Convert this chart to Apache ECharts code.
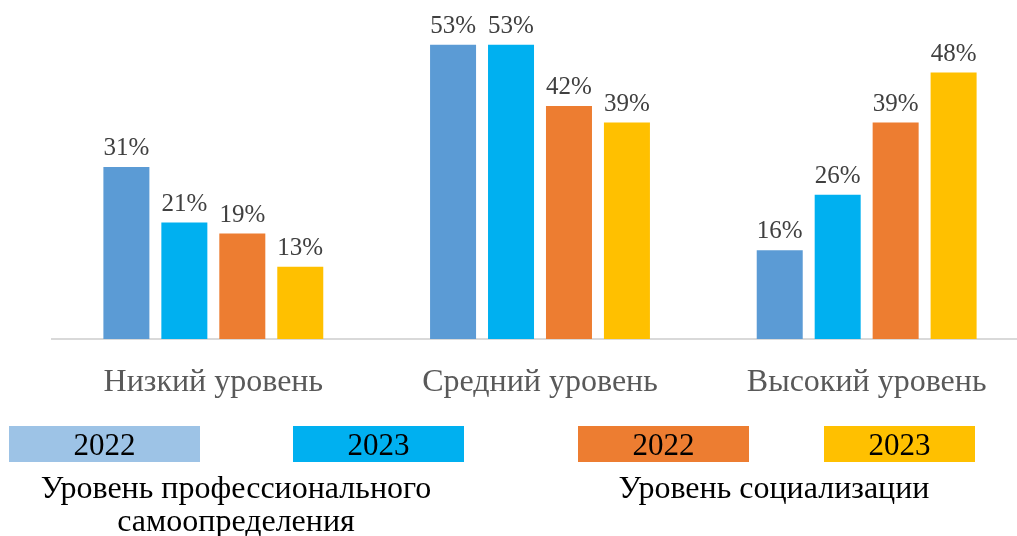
<!DOCTYPE html>
<html>
<head>
<meta charset="utf-8">
<script src="https://cdn.jsdelivr.net/npm/echarts@6/dist/echarts.min.js"></script>
<style>
  html, body { margin: 0; padding: 0; background: #fff; overflow: hidden; }
  /* a bit wider than the window: the last category runs past the right edge in the original */
  #chart { width: 1030px; height: 536px; }
</style>
</head>
<body>
<div id="chart"></div>
<script>
const categories = ['Низкий уровень', 'Средний уровень', 'Высокий уровень'];
const seriesNames = ['2022', '2023', '2022', '2023'];
const prof2022 = [31, 53, 16];
const prof2023 = [21, 53, 26];
const soc2022 = [19, 42, 39];
const soc2023 = [13, 39, 48];
const groupNames = ['Уровень профессионального\nсамоопределения', 'Уровень социализации'];

const barColors = ['#5B9BD5', '#00B0F0', '#ED7D31', '#FFC000'];
const legendColors = ['#9DC3E6', '#00B0F0', '#ED7D31', '#FFC000'];
const FONT = '"Liberation Serif", "Times New Roman", serif';

const chart = echarts.init(document.getElementById('chart'), null, { renderer: 'canvas' });

const values = [prof2022, prof2023, soc2022, soc2023];
const series = values.map((data, i) => ({
  name: seriesNames[i] + '_' + i,
  type: 'bar',
  data,
  barWidth: 46,
  barGap: '26%',
  itemStyle: { color: barColors[i] },
  label: {
    show: true,
    position: 'top',
    distance: 6,
    formatter: '{c}%',
    color: '#404040',
    fontFamily: FONT,
    fontSize: 25
  }
}));

// legend boxes drawn as graphics (text inside box)
const boxes = [
  { x: 9, w: 191 },
  { x: 293, w: 171 },
  { x: 578, w: 171 },
  { x: 824, w: 151 }
];
const graphics = [];
boxes.forEach((b, i) => {
  graphics.push({
    type: 'rect',
    left: b.x, top: 426,
    shape: { width: b.w, height: 36 },
    style: { fill: legendColors[i] }
  });
  graphics.push({
    type: 'text',
    x: b.x + b.w / 2, y: 447,
    style: {
      text: seriesNames[i],
      fill: '#000',
      font: '31px ' + FONT,
      textAlign: 'center',
      textVerticalAlign: 'middle'
    }
  });
});
graphics.push({
  type: 'text', x: 236, y: 473,
  style: { text: groupNames[0], fill: '#000', font: '32px ' + FONT, textAlign: 'center', lineHeight: 33 }
});
graphics.push({
  type: 'text', x: 774, y: 473,
  style: { text: groupNames[1], fill: '#000', font: '32px ' + FONT, textAlign: 'center', lineHeight: 33 }
});
// axis baseline
graphics.push({
  type: 'line',
  shape: { x1: 51, y1: 339, x2: 1030, y2: 339 },
  style: { stroke: '#D9D9D9', lineWidth: 2 }
});

chart.setOption({
  animation: false,
  grid: { left: 50, top: 6, right: 0, height: 333 },
  xAxis: {
    type: 'category',
    data: categories,
    axisLine: { show: false },
    axisTick: { show: false },
    axisLabel: {
      color: '#595959',
      fontFamily: FONT,
      fontSize: 32,
      margin: 28
    }
  },
  yAxis: {
    type: 'value',
    min: 0,
    max: 60,
    show: false,
    splitLine: { show: false }
  },
  series,
  graphic: graphics
});
</script>
</body>
</html>
